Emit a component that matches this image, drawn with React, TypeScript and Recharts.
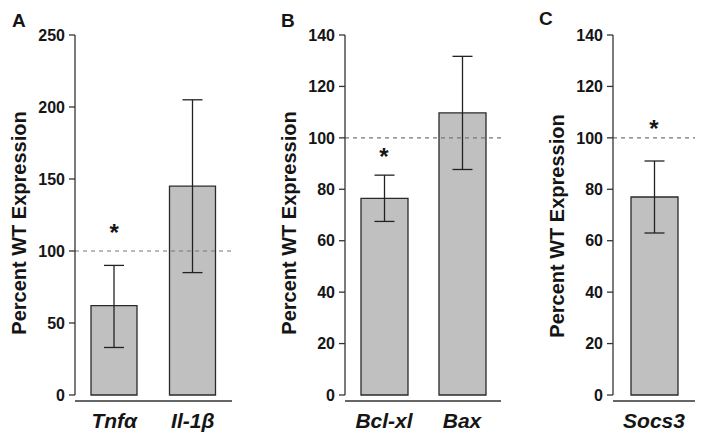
import React from 'react';
import { BarChart, Bar, XAxis, YAxis, ReferenceLine, ReferenceDot, ErrorBar } from 'recharts';

const genesA = ['Tnfα', 'Il-1β'];
const meansA = [62, 145];
const errsA: [number, number][] = [[29, 28], [60, 60]];
const ticksA = [0, 50, 100, 150, 200, 250];
const starA = { gene: 'Tnfα', y: 115 };

const genesB = ['Bcl-xl', 'Bax'];
const meansB = [76.5, 109.7];
const errsB: [number, number][] = [[9, 9], [22, 22]];
const ticksB = [0, 20, 40, 60, 80, 100, 120, 140];
const starB = { gene: 'Bcl-xl', y: 94 };

const genesC = ['Socs3'];
const meansC = [77];
const errsC: [number, number][] = [[14, 14]];
const ticksC = [0, 20, 40, 60, 80, 100, 120, 140];
const starC = { gene: 'Socs3', y: 105 };

const FONT = '"Liberation Sans", Arial, sans-serif';
const INK = '#151515';

type PanelProps = {
  genes: string[];
  means: number[];
  errs: [number, number][];
  ticks: number[];
  star: { gene: string; y: number };
  left: number;
  width: number;
  yAxisWidth: number;
  rightMargin: number;
  barSize: number;
};

function Panel(p: PanelProps) {
  const data = p.genes.map((g, i) => ({ gene: g, value: p.means[i], err: p.errs[i] }));
  const max = p.ticks[p.ticks.length - 1];
  return (
    <div style={{ position: 'absolute', left: p.left, top: 0 }}>
      <BarChart
        width={p.width}
        height={445}
        data={data}
        margin={{ top: 35, right: p.rightMargin, bottom: 0, left: 0 }}
        barCategoryGap={0}
      >
        <XAxis
          dataKey="gene"
          height={50}
          tickLine={false}
          tickSize={0}
          tickMargin={18}
          axisLine={{ stroke: '#333', strokeWidth: 1.3, transform: 'translate(0,6)' }}
          tick={{ fontSize: 21, fontWeight: 700, fontStyle: 'italic', fill: INK }}
          interval={0}
        />
        <YAxis
          width={p.yAxisWidth}
          domain={[0, max]}
          ticks={p.ticks}
          interval={0}
          tickSize={6}
          tickMargin={4}
          axisLine={{ stroke: '#333', strokeWidth: 1.3 }}
          tickLine={{ stroke: '#333', strokeWidth: 1.3 }}
          tick={{ fontSize: 16, fontWeight: 700, fill: INK }}
        />
        <ReferenceLine y={100} stroke="#777" strokeWidth={1.2} strokeDasharray="4 4" ifOverflow="visible" />
        <Bar dataKey="value" fill="#c0c0c0" stroke="#2a2a2a" strokeWidth={1.3} barSize={p.barSize} isAnimationActive={false}>
          <ErrorBar dataKey="err" width={10} stroke="#222" strokeWidth={1.3} direction="y" />
        </Bar>
        <ReferenceDot
          x={p.star.gene}
          y={p.star.y}
          r={0}
          fill="none"
          stroke="none"
          label={{ value: '*', position: 'center', fontSize: 24, fontWeight: 700, fill: INK, dy: 3 }}
        />
      </BarChart>
    </div>
  );
}

export default function App() {
  return (
    <div
      style={{
        position: 'absolute',
        left: 0,
        top: 0,
        width: 704,
        height: 445,
        background: '#fff',
        fontFamily: FONT,
        overflow: 'hidden',
      }}
    >
      <Panel genes={genesA} means={meansA} errs={errsA} ticks={ticksA} star={starA}
        left={0} width={240} yAxisWidth={75} rightMargin={8} barSize={46} />
      <Panel genes={genesB} means={meansB} errs={errsB} ticks={ticksB} star={starB}
        left={250} width={260} yAxisWidth={95} rightMargin={9} barSize={47} />
      <Panel genes={genesC} means={meansC} errs={errsC} ticks={ticksC} star={starC}
        left={520} width={184} yAxisWidth={93} rightMargin={9} barSize={47} />
      <svg width={704} height={445} style={{ position: 'absolute', left: 0, top: 0, pointerEvents: 'none' }}>
        <g fontFamily={FONT} fill={INK} fontWeight={700}>
          <text x={12} y={27} fontSize={19}>A</text>
          <text x={281} y={27} fontSize={19}>B</text>
          <text x={539} y={25} fontSize={19}>C</text>
          <text transform="translate(26,223) rotate(-90)" textAnchor="middle" fontSize={20}>Percent WT Expression</text>
          <text transform="translate(296,223) rotate(-90)" textAnchor="middle" fontSize={20}>Percent WT Expression</text>
          <text transform="translate(564,226) rotate(-90)" textAnchor="middle" fontSize={20}>Percent WT Expression</text>
        </g>
      </svg>
    </div>
  );
}
